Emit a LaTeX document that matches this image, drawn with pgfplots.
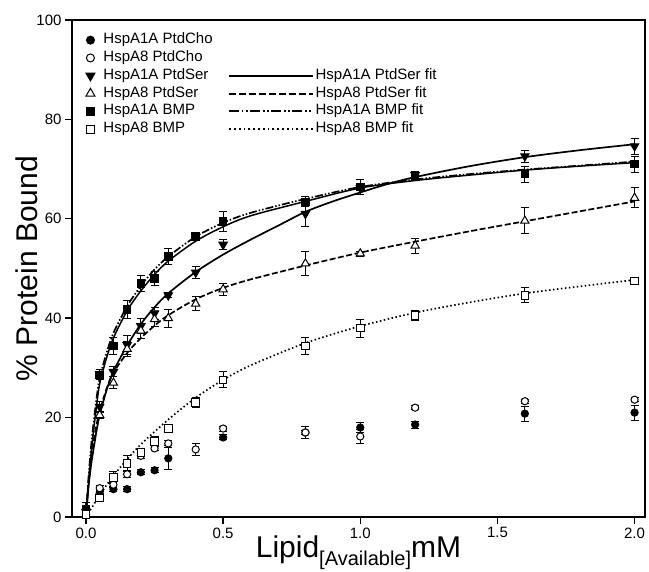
\documentclass[border=0pt]{standalone}
\usepackage{pgfplots}
\pgfplotsset{compat=1.18}
\usepackage{fontspec}
\setmainfont{Liberation Sans}

\begin{document}
\begin{tikzpicture}
\useasboundingbox (-72pt,-55pt) rectangle (577pt,517pt);
\begin{axis}[
  scale only axis, width=573pt, height=497pt,
  xmin=-0.051, xmax=2.038, ymin=0, ymax=100,
  clip=false,
  axis line style={line width=1.8pt},
  xtick={0,0.5,1,1.5,2}, ytick={0,20,40,60,80,100},
  xticklabel style={/pgf/number format/.cd, fixed, fixed zerofill, precision=1},
  /pgf/number format/assume math mode=true,
  ticklabel style={font=\fontsize{15}{15}\selectfont},
  tick align=outside, tick pos=left,
  major tick length=7pt,
  tick style={black, line width=1.4pt},
  xlabel={\fontsize{30}{30}\selectfont Lipid\raisebox{-8pt}{\fontsize{20}{20}\selectfont[Available]}mM},
  xlabel style={at={(axis description cs:0.5,0)}, anchor=base, yshift=-41pt},
  ylabel={\fontsize{30}{30}\selectfont\% Protein Bound},
  ylabel style={at={(axis description cs:-0.079,0.5)}, anchor=center},
  legend columns=2,
  legend cell align=left,
  legend style={draw=none, fill=none, at={(axis description cs:0.017,0.981)}, anchor=north west,
    font=\fontsize{15}{15}\selectfont,
    nodes={inner sep=1.5pt, text height=10.5pt, text depth=3.5pt}, row sep=0.8pt},
  /tikz/every even column/.append style={column sep=14pt},
  every axis plot/.append style={line width=1pt},
  error bars/y dir=both, error bars/y explicit,
  error bars/error mark options={rotate=90, mark size=4pt, line width=1pt},
  error bars/error bar style={line width=1pt},
]
\pgfplotsset{mleg/.style={legend image code/.code={\path (0pt,0pt) (16pt,0pt);\draw[##1] plot coordinates {(5pt,0pt)};}}}
\pgfplotsset{lleg/.style={legend image code/.code={\draw[##1] (0pt,0pt) -- (84pt,0pt);}}}

% legend entries
\addlegendimage{mleg, only marks, mark=*, mark size=4pt, black}
\addlegendentry{HspA1A PtdCho}
\addlegendimage{empty legend}
\addlegendentry{}
\addlegendimage{mleg, only marks, mark=o, mark size=4pt, black}
\addlegendentry{HspA8 PtdCho}
\addlegendimage{empty legend}
\addlegendentry{}
\addlegendimage{mleg, only marks, mark=triangle*, mark options={rotate=180}, mark size=5.2pt, black}
\addlegendentry{HspA1A PtdSer}
\addlegendimage{lleg, black, line width=2pt}
\addlegendentry{HspA1A PtdSer fit}
\addlegendimage{mleg, only marks, mark=triangle, mark size=5.2pt, black}
\addlegendentry{HspA8 PtdSer}
\addlegendimage{lleg, black, line width=2pt, dash pattern=on 7pt off 3pt}
\addlegendentry{HspA8 PtdSer fit}
\addlegendimage{mleg, only marks, mark=square*, mark size=4pt, black}
\addlegendentry{HspA1A BMP}
\addlegendimage{lleg, black, line width=2pt, dash pattern=on 10pt off 2.5pt on 1.8pt off 2.5pt on 1.8pt off 2.5pt}
\addlegendentry{HspA1A BMP fit}
\addlegendimage{mleg, only marks, mark=square, mark size=4pt, black}
\addlegendentry{HspA8 BMP}
\addlegendimage{lleg, black, line width=2pt, dash pattern=on 1.8pt off 3pt}
\addlegendentry{HspA8 BMP fit}

% fitted curves
\addplot[forget plot, black, line width=1.7pt, no marks, smooth, error bars/y dir=none] coordinates {
(0,0) (0.005,3.5) (0.01,6.5) (0.02,11) (0.03,14.5) (0.04,17.8) (0.05,20.5) (0.075,25.5)
(0.1,29.3) (0.15,34.5) (0.2,38.8) (0.25,42.2) (0.3,45) (0.4,49.3) (0.5,52.8) (0.6,55.8)
(0.7,58.6) (0.8,61.4) (0.9,63.5) (1.0,65.3) (1.1,67.0) (1.2,68.4) (1.4,70.6) (1.6,72.4) (1.8,73.8) (2.0,75.0)};
\addplot[forget plot, black, line width=1.7pt, no marks, smooth, dash pattern=on 6pt off 2.5pt, error bars/y dir=none] coordinates {
(0,0) (0.005,4) (0.01,7.5) (0.02,12.5) (0.03,16) (0.04,19) (0.05,21.3) (0.075,25.8)
(0.1,29) (0.15,33) (0.2,36) (0.25,38.5) (0.3,40.6) (0.4,43.8) (0.5,46.1) (0.6,47.8)
(0.8,50.6) (1.0,53.2) (1.2,55.4) (1.4,57.5) (1.6,59.5) (1.8,61.5) (2.0,63.5)};
\addplot[forget plot, black, line width=1.5pt, no marks, smooth, error bars/y dir=none] coordinates {
(0,0) (0.005,3.5) (0.01,7) (0.02,13.5) (0.03,18.5) (0.04,23) (0.05,26.8) (0.075,32)
(0.1,36) (0.15,41.5) (0.2,45.5) (0.25,48.8) (0.3,51.5) (0.4,55.5) (0.5,58.4) (0.6,60.6)
(0.8,63.5) (1.0,66.2) (1.2,67.7) (1.4,68.8) (1.6,69.8) (1.8,70.6) (2.0,71.3)};
\addplot[forget plot, black, line width=1.7pt, no marks, smooth, dash pattern=on 8pt off 2pt on 1.5pt off 2pt on 1.5pt off 2pt, error bars/y dir=none] coordinates {
(0,0) (0.005,4.5) (0.01,8.5) (0.02,15) (0.03,20) (0.04,24.5) (0.05,28) (0.075,33)
(0.1,37) (0.15,42.4) (0.2,46.5) (0.25,49.8) (0.3,52.4) (0.4,56.4) (0.5,59.2) (0.6,61.2)
(0.8,64.0) (1.0,66.4) (1.2,67.9) (1.4,69.0) (1.6,69.9) (1.8,70.7) (2.0,71.5)};
\addplot[forget plot, black, line width=1.7pt, no marks, smooth, dash pattern=on 1.5pt off 2.5pt, error bars/y dir=none] coordinates {
(0,0) (0.05,4.4) (0.1,8.3) (0.15,11.6) (0.2,14.6) (0.3,19.6) (0.4,24.0) (0.5,27.6)
(0.6,30.5) (0.8,35.0) (1.0,38.4) (1.2,41.1) (1.4,43.2) (1.6,45.0) (1.8,46.4) (2.0,47.7)};

% data: HspA1A PtdCho
\addplot[forget plot, only marks, mark=*, mark size=3.6pt, black] coordinates {
(0,0.5) +- (0,0.5) (0.05,4.8) +- (0,0.3) (0.1,5.6) +- (0,0.5) (0.15,5.6) +- (0,0.5)
(0.2,9.0) +- (0,0.5) (0.25,9.4) +- (0,0.5) (0.3,11.8) +- (0,2.2) (0.5,16.0) +- (0,0.5)
(0.8,17.0) +- (0,1.2) (1.0,18.0) +- (0,1.0) (1.2,18.6) +- (0,0.7) (1.6,20.8) +- (0,1.5) (2.0,21.0) +- (0,1.5)};
% HspA8 PtdCho
\addplot[forget plot, only marks, mark=*, mark size=3.6pt, black, mark options={fill=white}] coordinates {
(0,0.8) +- (0,0.3) (0.05,5.8) +- (0,0.5) (0.1,6.5) +- (0,0.5) (0.15,8.6) +- (0,0.6)
(0.2,12.3) +- (0,0.5) (0.25,13.8) +- (0,0.5) (0.3,14.8) +- (0,0.5) (0.4,13.6) +- (0,1.2)
(0.5,17.8) +- (0,0.5) (0.8,17.0) +- (0,0.5) (1.0,16.2) +- (0,1.5) (1.2,22.0) +- (0,0.4)
(1.6,23.3) +- (0,0.4) (2.0,23.6) +- (0,0.4)};
% HspA1A PtdSer
\addplot[forget plot, only marks, mark=triangle*, mark size=4.8pt, black, mark options={rotate=180}] coordinates {
(0,1.0) +- (0,0.5) (0.05,22.2) +- (0,1.0) (0.1,29.2) +- (0,1.0) (0.15,34.6) +- (0,2.0)
(0.2,38.4) +- (0,1.5) (0.25,41.0) +- (0,1.2) (0.3,44.6) +- (0,0.5) (0.4,49.2) +- (0,1.2)
(0.5,54.8) +- (0,1.0) (0.8,61.0) +- (0,2.5) (1.0,66.2) +- (0,0.6) (1.2,68.8) +- (0,0.6)
(1.6,72.6) +- (0,1.2) (2.0,74.6) +- (0,1.6)};
% HspA8 PtdSer
\addplot[forget plot, only marks, mark=triangle*, mark size=4.8pt, black, mark options={fill=white}] coordinates {
(0,0.5) +- (0,0.5) (0.05,20.5) +- (0,0.6) (0.1,27.0) +- (0,1.2) (0.15,33.8) +- (0,1.5)
(0.2,37.5) +- (0,1.5) (0.25,39.8) +- (0,1.5) (0.3,40.0) +- (0,1.8) (0.4,42.9) +- (0,1.4)
(0.5,45.8) +- (0,1.2) (0.8,51.0) +- (0,2.4) (1.0,53.0) +- (0,0.5) (1.2,54.6) +- (0,1.5)
(1.6,59.6) +- (0,2.6) (2.0,64.2) +- (0,2.0)};
% HspA1A BMP
\addplot[forget plot, only marks, mark=square*, mark size=3.8pt, black] coordinates {
(0,1.5) +- (0,1.5) (0.05,28.6) +- (0,1.0) (0.1,34.4) +- (0,1.8) (0.15,41.8) +- (0,1.8)
(0.2,47.0) +- (0,1.6) (0.25,48.0) +- (0,1.4) (0.3,52.4) +- (0,1.6) (0.4,56.4) +- (0,0.8)
(0.5,59.4) +- (0,2.0) (0.8,63.4) +- (0,1.0) (1.0,66.4) +- (0,1.5) (1.2,68.8) +- (0,0.8)
(1.6,69.0) +- (0,1.6) (2.0,71.0) +- (0,1.6)};
% HspA8 BMP
\addplot[forget plot, only marks, mark=square*, mark size=3.8pt, black, mark options={fill=white}] coordinates {
(0,0.5) +- (0,0.5) (0.05,3.8) +- (0,0.6) (0.1,7.9) +- (0,1.2) (0.15,10.8) +- (0,1.5)
(0.2,13.0) +- (0,0.6) (0.25,15.2) +- (0,1.0) (0.3,17.8) +- (0,0.6) (0.4,23.0) +- (0,1.0)
(0.5,27.6) +- (0,1.6) (0.8,34.4) +- (0,1.8) (1.0,38.0) +- (0,1.8) (1.2,40.6) +- (0,1.0)
(1.6,44.6) +- (0,1.5) (2.0,47.5) +- (0,0.6)};
\end{axis}
\end{tikzpicture}
\end{document}
